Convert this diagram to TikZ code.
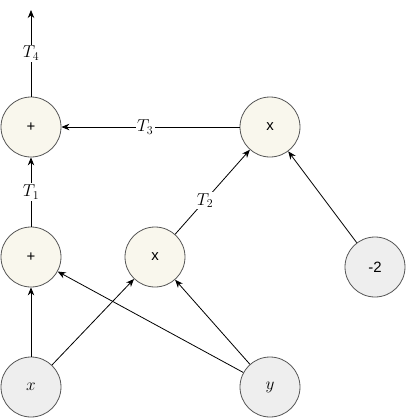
\documentclass[tikz,border=0pt]{standalone}
\usepackage{amsmath, amssymb}
\usepackage{fontspec}
\newfontfamily\opfont{Liberation Sans}
\usetikzlibrary{arrows.meta}
\definecolor{opfill}{HTML}{F9F7ED}
\definecolor{infill}{HTML}{EEEEEE}
\definecolor{rim}{HTML}{555555}

\begin{document}
\begin{tikzpicture}[x=1bp, y=-1bp, line width=0.8bp, >={Stealth[length=8bp,width=6.5bp]},
                lbl/.style={fill=white, inner sep=1.5bp, font=\fontsize{18}{20}\selectfont},
                opnode/.style={circle, draw=rim, fill=opfill, minimum size=60bp, inner sep=0pt, font=\opfont\fontsize{15}{17}\selectfont},
                innode/.style={circle, draw=rim, fill=infill, minimum size=60bp, inner sep=0pt, font=\fontsize{18}{20}\selectfont}]
                \useasboundingbox (0,0) rectangle (406,418);
                \node[innode] (x) at (31,387) {$x$};
                \node[innode] (y) at (270,387) {$y$};
                \node[innode, font=\opfont\fontsize{15}{17}\selectfont] (m2) at (375,267) {-2};
                \node[opnode] (add1) at (31,257) {+};
                \node[opnode] (mul1) at (155,257) {x};
                \node[opnode] (add2) at (31,127) {+};
                \node[opnode] (mul2) at (270,127) {x};
                \coordinate (out) at (31,10);
                \draw[->] (x) -- (add1);
                \draw[->] (x) -- (mul1);
                \draw[->] (y) -- (add1);
                \draw[->] (y) -- (mul1);
                \draw[->] (m2) -- (mul2);
                \draw[->] (add1) -- node[lbl] {$T_1$} (add2);
                \draw[->] (mul1) -- node[lbl, pos=0.4] {$T_2$} (mul2);
                \draw[->] (mul2) -- node[lbl, pos=0.53] {$T_3$} (add2);
                \draw[->] (add2) -- node[lbl] {$T_4$} (out);
            \end{tikzpicture}
\end{document}
